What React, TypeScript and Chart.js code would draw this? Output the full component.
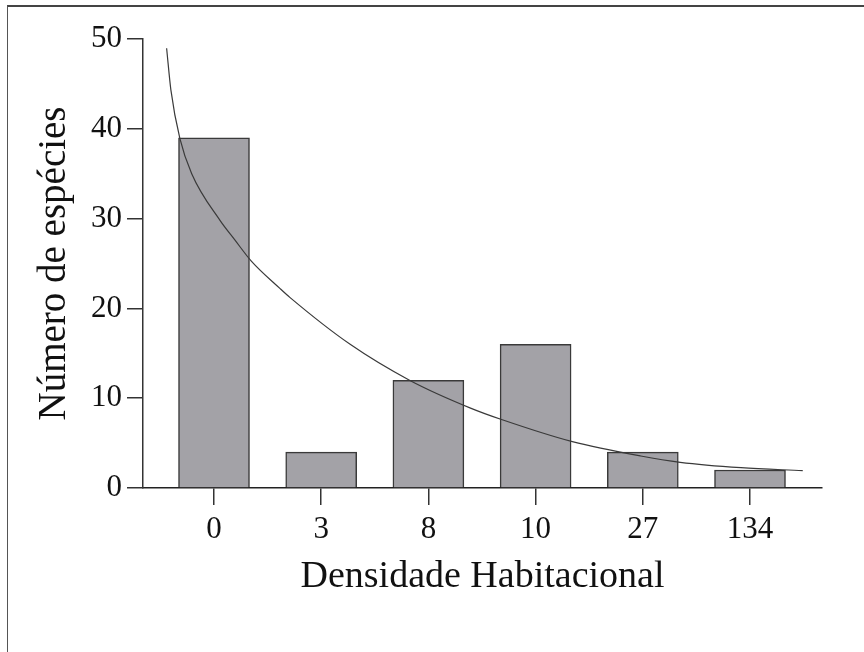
import React, { useEffect, useRef } from "react";
import { Chart, registerables } from "chart.js";

Chart.register(...registerables);

const categories = ["0", "3", "8", "10", "27", "134"];
const speciesCounts = [39, 4, 12, 16, 4, 2];
const yTicks = [0, 10, 20, 30, 40, 50];

// fitted curve (x in category-index units)
const curveX = [-0.442, -0.402, -0.318, -0.208, 0.056, 0.196, 0.346, 0.617, 0.71, 1.27, 1.832, 2.393, 2.689, 3.343, 3.981, 4.349, 4.916, 5.492];
const curveY = [48.97, 44.3, 38.9, 35.0, 29.8, 27.6, 25.3, 22.2, 21.2, 16.0, 11.95, 8.9, 7.6, 5.16, 3.56, 2.86, 2.26, 1.93];

const W = 864;
const H = 652;
const AREA_LEFT = 143;
const AREA_RIGHT = 822;
const AREA_TOP = 39;
const AREA_BOTTOM = 488;

export default function App() {
  const ref = useRef<HTMLCanvasElement | null>(null);

  useEffect(() => {
    if (!ref.current) return;
    const pxPerCat = 107.2;
    const xMin = -(214 - AREA_LEFT) / pxPerCat;
    const xMax = categories.length - 1 + (AREA_RIGHT - 750) / pxPerCat;
    const font = "'Liberation Serif', 'Times New Roman', serif";
    const ink = "#333333";

    const chart = new Chart(ref.current, {
      type: "bar",
      data: {
        datasets: [
          {
            type: "line",
            data: curveX.map((x, i) => ({ x, y: curveY[i] })),
            borderColor: "#3a3a3a",
            borderWidth: 1.2,
            pointRadius: 0,
            fill: false,
            cubicInterpolationMode: "monotone",
            order: 0,
          } as any,
          {
            type: "bar",
            data: speciesCounts.map((v, i) => ({ x: i, y: v })),
            backgroundColor: "#a3a2a7",
            borderColor: "#3a3a3a",
            borderWidth: 1.5,
            barThickness: 71,
            order: 1,
          } as any,
        ],
      },
      options: {
        responsive: false,
        animation: false,
        layout: {
          padding: { top: AREA_TOP, right: W - AREA_RIGHT, left: 0, bottom: 0 },
        },
        plugins: {
          legend: { display: false },
          tooltip: { enabled: false },
        },
        scales: {
          x: {
            type: "linear",
            offset: false,
            min: xMin,
            max: xMax,
            afterBuildTicks: (scale: any) => {
              scale.ticks = categories.map((_, i) => ({ value: i }));
            },
            afterFit: (scale: any) => {
              scale.height = H - AREA_BOTTOM;
            },
            ticks: {
              callback: (v: any) => categories[Math.round(Number(v))] ?? "",
              color: "#111",
              font: { family: font, size: 31 },
              padding: 6,
              maxRotation: 0,
              autoSkip: false,
            },
            grid: {
              offset: false,
              drawOnChartArea: false,
              tickLength: 17,
              color: ink,
              lineWidth: 1.5,
            },
            border: { display: true, color: "#222", width: 1.5 },
            title: {
              display: true,
              text: "Densidade Habitacional",
              color: "#111",
              font: { family: font, size: 38 },
              padding: { top: 4, bottom: 52 },
            },
          },
          y: {
            type: "linear",
            min: 0,
            max: 50,
            afterBuildTicks: (scale: any) => {
              scale.ticks = yTicks.map((v) => ({ value: v }));
            },
            afterFit: (scale: any) => {
              scale.width = AREA_LEFT;
            },
            ticks: {
              color: "#111",
              font: { family: font, size: 31 },
              padding: 5,
            },
            grid: {
              drawOnChartArea: false,
              tickLength: 16,
              color: ink,
              lineWidth: 1.5,
            },
            border: { display: true, color: ink, width: 1.5 },
            title: {
              display: true,
              text: "Número de espécies",
              color: "#111",
              font: { family: font, size: 39 },
              padding: { top: 31, bottom: 4 },
            },
          },
        },
      } as any,
    });
    return () => chart.destroy();
  }, []);

  return (
    <div style={{ position: "fixed", left: 0, top: 0, width: W, height: H, background: "#fff" }}>
      <div
        style={{
          position: "absolute",
          left: 7,
          top: 5,
          right: 0,
          bottom: 0,
          borderTop: "2px solid #444",
          borderLeft: "1.5px solid #555",
          pointerEvents: "none",
        }}
      />
      <canvas ref={ref} width={W} height={H} style={{ position: "absolute", left: 0, top: 0, width: W, height: H }} />
    </div>
  );
}
